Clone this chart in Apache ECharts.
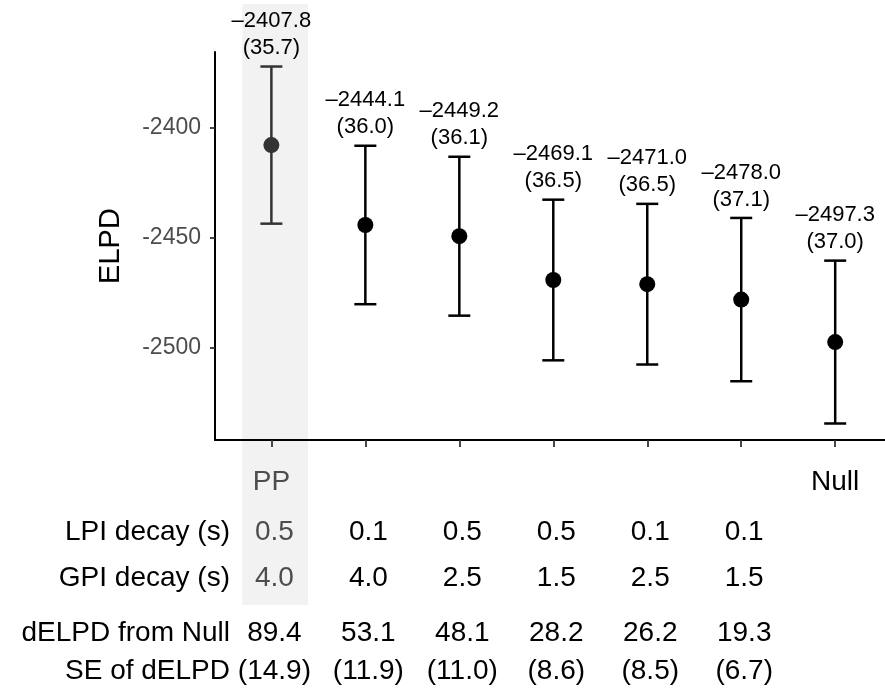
<!DOCTYPE html>
<html>
<head>
<meta charset="utf-8">
<script src="https://cdn.jsdelivr.net/npm/echarts@6/dist/echarts.min.js"></script>
<style>
html,body{margin:0;padding:0;background:#fff;}
#c{width:885px;height:690px;}
</style>
</head>
<body>
<div id="c"></div>
<script>
var categories = ['PP', '', '', '', '', '', 'Null'];
var elpd = [-2407.8, -2444.1, -2449.2, -2469.1, -2471.0, -2478.0, -2497.3];
var elpdSE = [35.7, 36.0, 36.1, 36.5, 36.5, 37.1, 37.0];
var lpiDecay = ['0.5', '0.1', '0.5', '0.5', '0.1', '0.1'];
var gpiDecay = ['4.0', '4.0', '2.5', '1.5', '2.5', '1.5'];
var dElpd = ['89.4', '53.1', '48.1', '28.2', '26.2', '19.3'];
var dElpdSE = ['(14.9)', '(11.9)', '(11.0)', '(8.6)', '(8.5)', '(6.7)'];
var yTicks = [-2500, -2450, -2400];
var xTicks = [0, 1, 2, 3, 4, 5, 6];

var FONT = "'Liberation Sans', Arial, Helvetica, sans-serif";
var chart = echarts.init(document.getElementById('c'));

function colorFor(i) { return i === 0 ? '#333333' : '#000000'; }

var barData = elpd.map(function (m, i) { return [i, m - elpdSE[i], m + elpdSE[i], m, elpdSE[i]]; });
var pointData = elpd.map(function (m, i) { return { value: [i, m], itemStyle: { color: colorFor(i), opacity: 1 } }; });

var option = {
  animation: false,
  backgroundColor: '#ffffff',
  grid: { left: 215, right: 0, top: 52, bottom: 250, containLabel: false },
  xAxis: {
    type: 'value',
    min: -0.6,
    max: 6.53,
    splitLine: { show: false },
    axisLine: { show: true, onZero: false, lineStyle: { color: '#000', width: 2 } },
    axisTick: { show: true, length: 7, customValues: xTicks, lineStyle: { color: '#333', width: 1.8 } },
    axisLabel: {
      customValues: xTicks,
      margin: 28,
      fontSize: 28,
      fontFamily: FONT,
      formatter: function (v) { return categories[Math.round(v)] || ''; },
      color: function (v) { return Math.round(v) === 0 ? '#4d4d4d' : '#000000'; }
    }
  },
  yAxis: {
    type: 'value',
    min: -2541.8,
    max: -2365.5,
    name: 'ELPD',
    nameLocation: 'middle',
    nameGap: 90,
    nameRotate: 90,
    nameTextStyle: { fontSize: 29, fontFamily: FONT, color: '#000' },
    splitLine: { show: false },
    axisLine: { show: true, onZero: false, lineStyle: { color: '#000', width: 2 } },
    axisTick: { show: true, length: 5, customValues: yTicks, lineStyle: { color: '#333', width: 1.8 } },
    axisLabel: {
      customValues: yTicks,
      margin: 14,
      fontSize: 23,
      fontFamily: FONT,
      color: '#4d4d4d',
      formatter: function (v) { return String(v); }
    }
  },
  series: [
    {
      type: 'custom',
      clip: false,
      z: 3,
      data: barData,
      renderItem: function (params, api) {
        var i = api.value(0);
        var lo = api.coord([i, api.value(1)]);
        var hi = api.coord([i, api.value(2)]);
        var col = colorFor(i);
        var cap = 11;
        var m = api.value(3), se = api.value(4);
        var label = '\u2013' + Math.abs(m).toFixed(1) + '\n(' + se.toFixed(1) + ')';
        return {
          type: 'group',
          children: [
            { type: 'line', shape: { x1: hi[0], y1: hi[1], x2: lo[0], y2: lo[1] }, style: { stroke: col, lineWidth: 2.5 } },
            { type: 'line', shape: { x1: hi[0] - cap, y1: hi[1], x2: hi[0] + cap, y2: hi[1] }, style: { stroke: col, lineWidth: 2.5 } },
            { type: 'line', shape: { x1: lo[0] - cap, y1: lo[1], x2: lo[0] + cap, y2: lo[1] }, style: { stroke: col, lineWidth: 2.5 } },
            { type: 'text', x: hi[0], y: hi[1] - 5, style: { text: label, fill: '#000', font: '22px ' + FONT, align: 'center', verticalAlign: 'bottom', lineHeight: 27 } }
          ]
        };
      }
    },
    {
      type: 'scatter',
      z: 4,
      symbol: 'circle',
      symbolSize: 16,
      itemStyle: { opacity: 1 },
      data: pointData
    }
  ]
};
chart.setOption(option);

// table and highlight band placed from the x-axis scale
var elements = [];
var x0 = chart.convertToPixel({ xAxisIndex: 0 }, 0);
var unit = chart.convertToPixel({ xAxisIndex: 0 }, 1) - x0;
elements.push({ type: 'rect', z: -10, silent: true, shape: { x: x0 - 0.31 * unit, y: 4, width: 0.7 * unit, height: 601 }, style: { fill: '#f2f2f2' } });

var rows = [
  { label: 'LPI decay (s)', vals: lpiDecay, y: 532, greyFirst: true },
  { label: 'GPI decay (s)', vals: gpiDecay, y: 578, greyFirst: true },
  { label: 'dELPD from Null', vals: dElpd, y: 633, greyFirst: false },
  { label: 'SE of dELPD', vals: dElpdSE, y: 671, greyFirst: false }
];
rows.forEach(function (r) {
  elements.push({ type: 'text', z: 5, x: 230, y: r.y, style: { text: r.label, fill: '#000', font: '28px ' + FONT, align: 'right', verticalAlign: 'middle' } });
  r.vals.forEach(function (v, i) {
    var px = chart.convertToPixel({ xAxisIndex: 0 }, i) + 3;
    elements.push({ type: 'text', z: 5, x: px, y: r.y, style: { text: v, fill: (r.greyFirst && i === 0) ? '#4d4d4d' : '#000', font: '28px ' + FONT, align: 'center', verticalAlign: 'middle' } });
  });
});
chart.setOption({ graphic: { elements: elements } });
</script>
</body>
</html>
